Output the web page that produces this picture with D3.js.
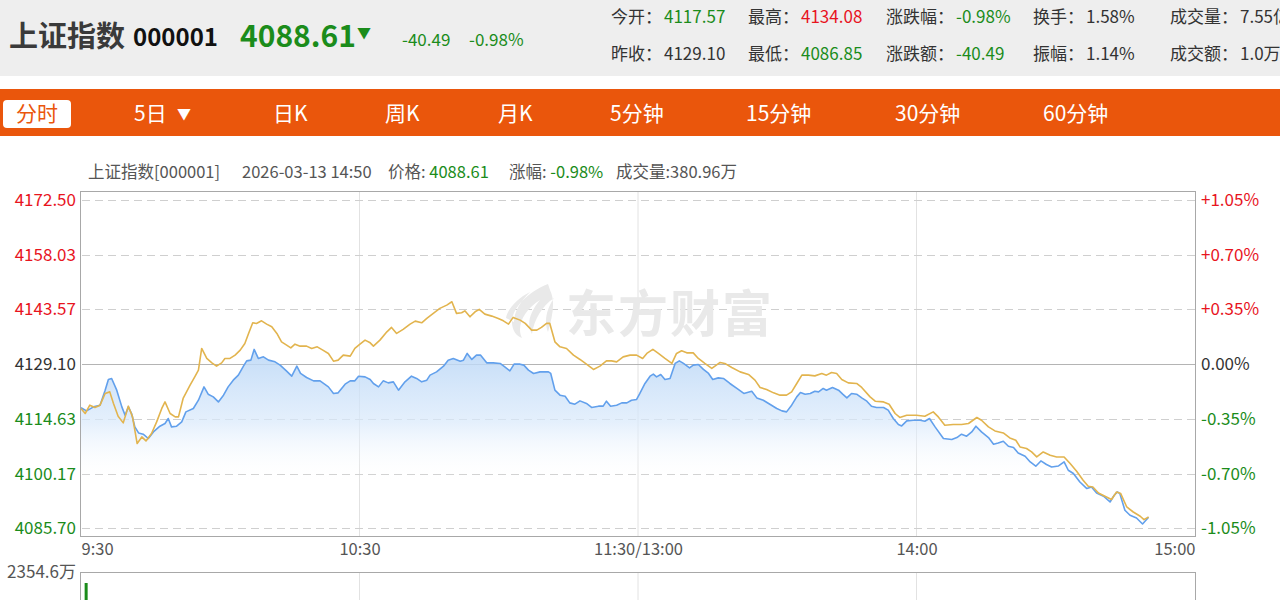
<!DOCTYPE html>
<html><head><meta charset="utf-8">
<script src="https://cdn.jsdelivr.net/npm/d3@7"></script>
<style>
body{margin:0;background:#fff;overflow:hidden}
svg{display:block;font-family:"Noto Sans CJK SC","Noto Sans",sans-serif}
</style></head><body>
<svg id="c" width="1280" height="600"></svg>
<script>
// ---------------- data ----------------
const indexName = "上证指数";
const indexCode = "000001";
const lastPrice = 4088.61;
const prevClose = 4129.10;
const changeAmt = -40.49;
const changePct = "-0.98%";
const statLabelsRow1 = ["今开", "最高", "涨跌幅", "换手", "成交量"];
const statValuesRow1 = ["4117.57", "4134.08", "-0.98%", "1.58%", "7.55亿"];
const statLabelsRow2 = ["昨收", "最低", "涨跌额", "振幅", "成交额"];
const statValuesRow2 = ["4129.10", "4086.85", "-40.49", "1.14%", "1.0万亿"];
const tabs = ["分时", "5日", "日K", "周K", "月K", "5分钟", "15分钟", "30分钟", "60分钟"];
const infoDate = "2026-03-13 14:50";
const infoVolume = "380.96万";
const yTicks = [4172.50, 4158.03, 4143.57, 4129.10, 4114.63, 4100.17, 4085.70];
const xTicks = [0, 60, 120, 180, 240];
const xTickLabels = ["9:30", "10:30", "11:30/13:00", "14:00", "15:00"];
const volMaxLabel = "2354.6万";
const volumeSeries = [[1, 2354.6]];
// minutes from 9:30 (trading minutes), value
const priceSeries = [
[0,4117.57],[1.2,4116.74],[2.7,4117.80],[4.1,4118.25],[5.2,4122.22],[5.9,4125.05],[6.6,4125.32],[7.7,4122.22],
[8.8,4117.80],[9.5,4115.60],[10.2,4117.80],[10.9,4116.05],[11.6,4112.51],[12.4,4110.92],[13.4,4110.58],[14.5,4109.44],
[15.6,4111.18],[17.0,4112.69],[18.1,4113.41],[18.8,4114.73],[19.5,4112.51],[20.6,4112.69],[21.7,4113.83],[22.6,4116.48],
[24.2,4117.38],[25.3,4119.57],[26.5,4123.09],[27.4,4121.16],[28.5,4120.45],[29.6,4119.12],[30.7,4120.90],[31.7,4123.09],
[32.8,4124.87],[33.9,4126.19],[35.0,4128.57],[35.7,4129.97],[36.6,4130.16],[37.3,4132.99],[38.2,4130.61],[39.3,4131.03],
[40.4,4130.16],[41.8,4129.71],[42.9,4128.84],[44.3,4127.25],[45.4,4125.92],[46.5,4128.57],[47.3,4126.64],[48.6,4125.58],
[50.1,4124.68],[51.5,4124.68],[53.3,4123.09],[54.4,4121.35],[55.4,4121.51],[56.9,4123.81],[58.0,4124.68],[59.0,4124.68],
[59.8,4125.92],[61.2,4125.74],[62.3,4125.05],[63.0,4123.99],[64.1,4123.09],[65.1,4124.68],[66.2,4124.15],[67.3,4124.42],
[68.4,4122.22],[69.8,4124.42],[71.2,4125.92],[72.3,4125.32],[73.4,4124.42],[74.5,4124.87],[75.2,4126.19],[76.6,4127.06],
[78.1,4128.57],[79.1,4130.16],[80.2,4130.61],[81.7,4129.89],[82.4,4130.16],[83.2,4131.93],[84.2,4130.34],[85.2,4131.48],
[86.1,4131.48],[87.4,4129.44],[88.8,4129.44],[90.3,4129.29],[91.3,4128.39],[92.4,4127.33],[93.3,4129.10],[94.6,4129.10],
[95.4,4128.84],[96.4,4127.51],[97.5,4126.64],[98.9,4127.06],[100.7,4127.06],[101.2,4126.64],[102.1,4122.22],[103.2,4120.90],
[104.3,4120.63],[105.3,4118.86],[106.4,4118.51],[107.5,4119.39],[108.9,4118.70],[110.0,4117.64],[111.5,4117.99],[112.5,4117.99],
[113.2,4119.31],[114.1,4117.99],[115.4,4118.25],[116.5,4118.86],[117.6,4118.86],[118.6,4119.57],[119.7,4119.76],[120.4,4121.35],
[121.5,4123.99],[122.6,4125.92],[123.3,4126.45],[124.0,4125.74],[124.9,4126.37],[125.8,4125.05],[126.9,4125.32],[128.0,4129.29],
[128.9,4129.97],[129.8,4129.29],[131.1,4128.12],[131.9,4128.84],[133.0,4129.02],[134.1,4127.70],[135.2,4126.64],[136.1,4125.05],
[137.3,4125.47],[138.4,4125.32],[139.8,4123.99],[141.3,4122.67],[142.8,4121.35],[144.5,4121.95],[145.6,4120.18],[147.0,4119.57],
[148.4,4118.51],[149.9,4117.38],[151.0,4116.74],[152.0,4116.48],[153.1,4118.25],[154.2,4120.45],[155.0,4121.61],[156.0,4121.16],
[157.1,4121.35],[158.1,4121.95],[158.9,4121.77],[159.9,4122.67],[160.6,4122.22],[161.9,4122.93],[163.2,4122.22],[164.1,4121.16],
[165.0,4120.18],[166.0,4121.35],[167.1,4121.16],[168.2,4120.18],[169.3,4119.31],[170.3,4117.99],[171.4,4117.64],[172.9,4117.64],
[173.9,4116.93],[175.0,4114.73],[176.1,4113.14],[176.8,4112.77],[177.9,4114.10],[179.3,4114.28],[180.8,4114.28],[181.8,4114.02],
[182.8,4114.73],[184.0,4112.51],[185.8,4109.44],[187.6,4109.17],[188.7,4109.70],[189.7,4110.58],[190.8,4110.05],[191.9,4111.18],
[192.8,4112.69],[194.0,4111.18],[195.5,4109.70],[196.6,4107.93],[197.6,4108.27],[198.7,4108.72],[199.8,4107.40],[200.9,4107.06],
[201.9,4105.63],[203.4,4104.75],[204.5,4103.25],[205.7,4102.11],[206.8,4103.51],[208.0,4102.56],[209.1,4101.92],[210.6,4102.19],
[211.8,4103.25],[212.7,4101.05],[213.8,4100.18],[215.2,4097.95],[216.7,4096.21],[217.7,4096.63],[218.8,4095.04],[220.3,4094.17],
[221.7,4092.66],[222.6,4094.43],[223.3,4095.31],[223.8,4094.88],[224.9,4090.46],[226.0,4089.14],[227.4,4088.43],[228.7,4086.85],
[230,4088.61]];
const leadSeries = [
[0,4117.40],[0.9,4116.05],[1.9,4118.25],[3.0,4117.64],[4.1,4118.25],[5.2,4121.35],[6.2,4121.77],[7.0,4118.70],
[8.0,4115.34],[9.1,4113.57],[10.2,4117.99],[11.1,4115.15],[12.1,4108.11],[13.1,4109.86],[14.0,4108.80],[15.2,4110.76],
[16.3,4113.83],[17.4,4117.38],[18.1,4119.12],[19.2,4116.05],[20.3,4115.15],[21.0,4115.15],[22.0,4120.02],[23.5,4123.54],
[24.6,4125.92],[25.3,4127.51],[26.0,4133.25],[27.1,4130.61],[28.2,4129.44],[29.2,4128.57],[30.3,4129.44],[31.0,4130.61],
[32.1,4130.61],[33.2,4131.48],[34.3,4132.80],[35.3,4134.58],[36.1,4137.22],[37.0,4140.03],[37.8,4139.87],[38.9,4140.56],
[40.0,4139.69],[41.1,4138.97],[42.2,4137.22],[43.2,4135.00],[44.3,4134.13],[45.2,4133.41],[46.1,4134.39],[47.2,4133.86],
[48.6,4133.86],[49.7,4133.25],[50.9,4133.68],[52.1,4132.80],[53.3,4131.93],[54.4,4129.89],[55.4,4130.16],[56.5,4131.48],
[58.0,4131.22],[59.0,4133.25],[60.1,4134.39],[61.2,4135.45],[62.3,4134.74],[63.0,4133.86],[64.4,4135.45],[65.9,4137.65],
[66.9,4138.81],[68.0,4137.22],[69.4,4138.28],[70.9,4139.69],[72.0,4140.48],[73.4,4140.03],[74.5,4141.19],[75.9,4142.52],
[77.3,4143.84],[78.8,4144.71],[79.9,4145.59],[80.9,4142.52],[82.0,4142.68],[82.7,4143.20],[83.8,4141.62],[84.9,4142.94],
[85.8,4143.58],[87.0,4142.33],[88.5,4141.80],[89.9,4141.19],[91.0,4140.56],[92.1,4139.69],[93.1,4141.46],[94.6,4140.74],
[95.7,4139.87],[97.1,4138.10],[98.2,4138.10],[99.2,4138.81],[100.3,4139.87],[101.0,4139.87],[102.1,4135.00],[103.2,4133.68],
[104.6,4133.25],[106.1,4131.48],[107.5,4130.34],[108.9,4129.10],[110.4,4127.70],[111.8,4128.57],[113.2,4129.97],[114.3,4129.97],
[115.4,4129.71],[116.8,4131.03],[118.3,4131.48],[119.7,4131.48],[121.0,4130.61],[121.9,4131.93],[123.2,4132.99],[124.4,4131.93],
[125.8,4130.61],[127.3,4129.29],[128.3,4131.93],[129.4,4132.62],[130.5,4132.09],[131.9,4132.09],[133.0,4130.61],[134.4,4129.29],
[135.9,4127.96],[137.7,4129.55],[138.7,4129.29],[140.2,4128.23],[142.0,4127.06],[143.8,4126.37],[145.2,4124.87],[146.3,4122.93],
[147.7,4122.40],[149.2,4121.51],[150.6,4120.90],[152.0,4120.90],[153.1,4121.77],[154.2,4123.99],[155.3,4126.19],[156.7,4126.19],
[158.1,4126.00],[159.6,4126.64],[160.6,4126.19],[161.7,4126.90],[162.8,4126.64],[163.9,4125.05],[165.3,4124.15],[167.1,4123.99],
[168.2,4122.93],[170.0,4120.45],[171.1,4119.31],[172.9,4119.12],[174.1,4118.51],[175.4,4116.05],[176.4,4115.00],[177.9,4115.60],
[180.0,4115.60],[181.8,4115.34],[183.6,4116.48],[184.7,4115.15],[186.1,4112.96],[187.9,4113.14],[189.7,4113.14],[191.2,4113.41],
[193.0,4115.00],[194.0,4114.28],[195.5,4112.51],[196.9,4111.45],[198.7,4110.92],[200.1,4109.60],[201.4,4108.99],[202.3,4107.21],
[203.7,4106.79],[204.8,4105.89],[205.9,4104.57],[207.3,4105.89],[208.8,4105.02],[210.2,4104.57],[211.8,4104.57],[213.1,4102.82],
[214.5,4100.78],[215.9,4098.40],[217.0,4096.82],[218.0,4096.63],[219.2,4095.04],[220.6,4094.17],[222.0,4093.30],[223.1,4095.31],
[224.0,4094.88],[225.3,4091.34],[226.7,4090.01],[228.2,4088.88],[229.0,4088.00],[230.0,4088.69]];

// ---------------- drawing ----------------
const W = 1280, H = 600;
const GREEN = "#1b8c1b", RED = "#e8141e", DARK = "#333333", GRAY = "#555555";
const ORANGE = "#ea560c";
const FONT = '"Noto Sans CJK SC","Noto Sans",sans-serif';
const svg = d3.select("#c");
const defs = svg.append("defs");

function colorOf(v) {
  if (typeof v === "number") return v > prevClose ? RED : (v < prevClose ? GREEN : DARK);
  return DARK;
}
function statColor(label, val) {
  if (["今开", "最高", "最低", "昨收"].includes(label)) return colorOf(+val);
  if (["涨跌幅", "涨跌额"].includes(label)) return val.startsWith("-") ? GREEN : RED;
  return DARK;
}

// header
svg.append("rect").attr("x", 0).attr("y", 0).attr("width", W).attr("height", 76).attr("fill", "#eeeeee");
svg.append("text").attr("x", 9).attr("y", 47).attr("font-size", 29).attr("font-weight", 700)
  .attr("fill", "#3a3a3a").text(indexName);
svg.append("text").attr("x", 133).attr("y", 46).attr("font-size", 24).attr("font-weight", 700)
  .attr("fill", "#111").text(indexCode);
svg.append("text").attr("x", 240).attr("y", 47).attr("font-size", 30).attr("font-weight", 700)
  .attr("fill", colorOf(lastPrice)).text(lastPrice.toFixed(2));
svg.append("text").attr("x", 357).attr("y", 38).attr("font-size", 14)
  .attr("fill", colorOf(lastPrice)).text("▼");
svg.append("text").attr("x", 402).attr("y", 46).attr("font-size", 17)
  .attr("fill", GREEN).text(changeAmt.toFixed(2));
svg.append("text").attr("x", 469).attr("y", 46).attr("font-size", 17)
  .attr("fill", GREEN).text(changePct);

const statCols = [611, 748, 886, 1033, 1170];
[[statLabelsRow1, statValuesRow1, 23], [statLabelsRow2, statValuesRow2, 60]].forEach(([labs, vals, yy]) => {
  labs.forEach((lab, i) => {
    const t = svg.append("text").attr("x", statCols[i]).attr("y", yy).attr("font-size", 17);
    t.append("tspan").attr("fill", DARK).text(lab + "：");
    t.append("tspan").attr("dx", 2).attr("fill", statColor(lab, vals[i])).text(vals[i]);
  });
});

// tab bar
svg.append("rect").attr("x", 0).attr("y", 89).attr("width", W).attr("height", 47).attr("fill", ORANGE);
const tabX = [37, 134, 273, 385, 498, 610, 746, 895, 1043];
svg.append("rect").attr("x", 3).attr("y", 100).attr("width", 68).attr("height", 28).attr("rx", 4).attr("fill", "#fff");
tabs.forEach((t, i) => {
  svg.append("text").attr("x", tabX[i]).attr("y", 121).attr("font-size", 21)
    .attr("fill", i === 0 ? ORANGE : "#fff").attr("text-anchor", i === 0 ? "middle" : "start").text(t);
  if (i === 1) svg.append("text").attr("x", 177).attr("y", 119).attr("font-size", 14).attr("fill", "#fff").text("▼");
});

// info line
const info = svg.append("g").attr("font-size", 16.5).attr("fill", GRAY);
info.append("text").attr("x", 88).attr("y", 178).text(indexName + "[" + indexCode + "]");
info.append("text").attr("x", 242).attr("y", 178).text(infoDate);
const i1 = info.append("text").attr("x", 388).attr("y", 178);
i1.append("tspan").text("价格: ");
i1.append("tspan").attr("fill", GREEN).text(lastPrice.toFixed(2));
const i2 = info.append("text").attr("x", 509).attr("y", 178);
i2.append("tspan").text("涨幅: ");
i2.append("tspan").attr("fill", GREEN).text(changePct);
info.append("text").attr("x", 616).attr("y", 178).text("成交量:" + infoVolume);

// scales
const L = 81, R = 1195, T = 192, B = 536;
const x = d3.scaleLinear().domain([0, 240]).range([L, R]);
const y = d3.scaleLinear().domain([yTicks[yTicks.length - 1], yTicks[0]]).range([528.3, 200]);

// grid
const grid = svg.append("g");
xTicks.slice(1, -1).forEach(m => {
  grid.append("line").attr("x1", x(m)).attr("x2", x(m)).attr("y1", T).attr("y2", B)
    .attr("stroke", "#e2e2e2").attr("stroke-width", 1);
  grid.append("line").attr("x1", x(m)).attr("x2", x(m)).attr("y1", 573).attr("y2", H)
    .attr("stroke", "#e2e2e2").attr("stroke-width", 1);
});
yTicks.forEach(v => {
  const yy = Math.round(y(v)) + 0.5;
  const isPrev = Math.abs(v - prevClose) < 0.001;
  grid.append("line").attr("x1", L + 1).attr("x2", R).attr("y1", yy).attr("y2", yy)
    .attr("stroke", isPrev ? "#b4b4b4" : "#cfcfcf").attr("stroke-width", 1)
    .attr("stroke-dasharray", isPrev ? null : "8,5");
});

// watermark
const wm = svg.append("g").attr("fill", "#e9e9e9");
wm.append("path").attr("d",
  "M548,284 C528,292 512,308 512,322 C512,330 516,336 522,338 C516,326 524,310 540,300 C530,312 526,324 532,334 C534,320 542,306 554,298 C546,310 544,322 548,332 C552,318 556,302 550,290 Z M506,318 C508,308 518,298 530,292 C520,302 514,312 514,322 Z");
wm.append("text").attr("x", 566).attr("y", 332).attr("font-size", 50).attr("font-weight", 700)
  .attr("letter-spacing", 2).text("东方财富");

// area + lines
const grad = defs.append("linearGradient").attr("id", "ag").attr("gradientUnits", "userSpaceOnUse")
  .attr("x1", 0).attr("x2", 0).attr("y1", y(4133)).attr("y2", y(4098));
grad.append("stop").attr("offset", 0).attr("stop-color", "#b9d6f6").attr("stop-opacity", 0.85);
grad.append("stop").attr("offset", 0.55).attr("stop-color", "#d9e9fb").attr("stop-opacity", 0.7);
grad.append("stop").attr("offset", 1).attr("stop-color", "#ffffff").attr("stop-opacity", 0);

const area = d3.area().x(d => x(d[0])).y0(B - 1).y1(d => y(d[1]));
svg.append("path").datum(priceSeries).attr("d", area).attr("fill", "url(#ag)");
const line = d3.line().x(d => x(d[0])).y(d => y(d[1]));
svg.append("path").datum(priceSeries).attr("d", line).attr("fill", "none")
  .attr("stroke", "#62a0ec").attr("stroke-width", 1.6).attr("stroke-linejoin", "round");
svg.append("path").datum(leadSeries).attr("d", line).attr("fill", "none")
  .attr("stroke", "#e2b44e").attr("stroke-width", 1.6).attr("stroke-linejoin", "round");

// border
svg.append("rect").attr("x", 80.5).attr("y", 191.5).attr("width", R - 80).attr("height", B - 191)
  .attr("fill", "none").attr("stroke", "#a8a8a8");

// axes
const fmtPct = v => { const p = (v - prevClose) / prevClose * 100; const s = Math.abs(p).toFixed(2); return (p > 0.001 ? "+" : (p < -0.001 ? "-" : "")) + s + "%"; };
const la = svg.append("g").attr("transform", `translate(${L - 1},0)`)
  .call(d3.axisLeft(y).tickValues(yTicks).tickSize(0).tickPadding(4).tickFormat(d3.format(".2f")));
const ra = svg.append("g").attr("transform", `translate(${R},0)`)
  .call(d3.axisRight(y).tickValues(yTicks).tickSize(0).tickPadding(6).tickFormat(fmtPct));
[la, ra].forEach(g => {
  g.select(".domain").remove();
  g.selectAll("text").attr("font-size", 17).attr("font-family", FONT)
    .attr("fill", d => colorOf(d));
});
const ba = svg.append("g").attr("transform", `translate(0,${B + 7})`)
  .call(d3.axisBottom(x).tickValues(xTicks).tickSize(0).tickPadding(0).tickFormat((d, i) => xTickLabels[i]));
ba.select(".domain").remove();
ba.selectAll("text").attr("font-size", 16.5).attr("font-family", FONT)
  .attr("fill", GRAY)
  .attr("text-anchor", (d, i) => i === 0 ? "start" : (i === xTicks.length - 1 ? "end" : "middle"));

// volume panel
svg.append("rect").attr("x", 80.5).attr("y", 572.5).attr("width", R - 80).attr("height", 80)
  .attr("fill", "none").attr("stroke", "#a8a8a8");
svg.append("text").attr("x", 76).attr("y", 572).attr("dy", "0.35em").attr("text-anchor", "end")
  .attr("font-size", 17).attr("fill", GRAY).text(volMaxLabel);
const vy = d3.scaleLinear().domain([0, 2354.6]).range([680, 583]);
svg.selectAll(".vbar").data(volumeSeries).join("rect").attr("class", "vbar")
  .attr("x", d => x(d[0]) - 1).attr("width", 3)
  .attr("y", d => vy(d[1])).attr("height", d => vy(0) - vy(d[1])).attr("fill", "#1b8c1b");
</script></body></html>
